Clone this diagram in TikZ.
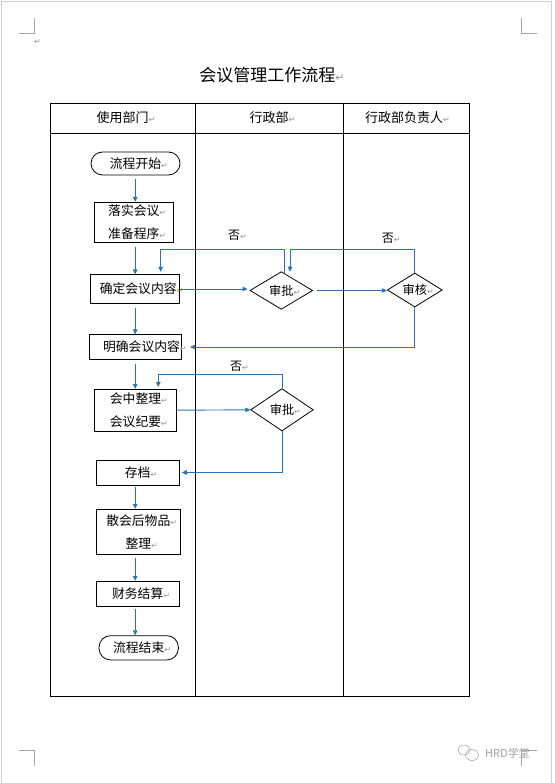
\documentclass[tikz,border=0pt]{standalone}
\usepackage{fontspec}
\setmainfont{Noto Sans CJK SC}
\newfontfamily\symf{DejaVu Sans}
\usetikzlibrary{shapes.geometric,arrows.meta,calc}
\definecolor{flowblue}{RGB}{39,116,181}
\definecolor{retgray}{RGB}{150,150,150}
\definecolor{markgray}{RGB}{165,165,165}
\definecolor{framegray}{RGB}{205,205,205}
\definecolor{wmgray}{RGB}{160,160,160}
\newcommand{\retmark}[1][8]{\rlap{\symf\fontsize{#1}{#1}\selectfont\color{retgray}↵}}
\begin{document}
\begin{tikzpicture}[x=1pt,y=-1pt,
  box/.style={draw, line width=0.8pt, rectangle, inner sep=0pt, align=center,
    font=\fontsize{12.8}{22.7}\selectfont},
  term/.style={box, rounded corners=11.5pt},
  dec/.style={draw, diamond, aspect=1.66, line width=0.8pt, inner sep=0pt,
    font=\fontsize{12.2}{14}\selectfont},
  flow/.style={draw=flowblue, line width=0.9pt, -{Triangle[length=5pt,width=4.5pt]}},
  lane/.style={line width=0.8pt},
  crop/.style={draw=markgray, line width=0.7pt},
  hdr/.style={font=\fontsize{13}{13}\selectfont, inner sep=0pt},
  lbl/.style={font=\fontsize{12}{12}\selectfont, inner sep=0pt}]
\useasboundingbox (0,0) rectangle (554,783);
% page frame and crop marks
\draw[draw=framegray, line width=1pt] (1.5,783) -- (1.5,1.5) -- (551.5,1.5) -- (551.5,783);
\draw[crop] (19,33.5) -- (34.5,33.5) -- (34.5,18);
\draw[crop] (521.5,18) -- (521.5,33.5) -- (537,33.5);
\draw[crop] (19,750.5) -- (34.5,750.5) -- (34.5,766);
\draw[crop] (521.5,766) -- (521.5,750.5) -- (537,750.5);
\node[inner sep=0pt, anchor=west] (pm) at (33.5,42) {\retmark};
% title
\node[font=\fontsize{17}{17}\selectfont, inner sep=0pt] (title) at (267.3,74.7) {会议管理工作流程\retmark[11]};
% table
\draw[lane] (50,103) rectangle (469,696);
\draw[lane] (50,133) -- (469,133);
\draw[lane] (195,103) -- (195,696);
\draw[lane] (343,103) -- (343,696);
\node[hdr] (h1) at (122.5,118) {使用部门\retmark};
\node[hdr] (h2) at (269,118) {行政部\retmark};
\node[hdr] (h3) at (404,118) {行政部负责人\retmark};
% nodes
\node[term, minimum width=89pt, minimum height=23pt] (start) at (135.5,163.5) {流程开始\retmark};
\node[box, minimum width=79pt, minimum height=40pt] (prep) at (133.8,222.3) {落实会议\retmark\\准备程序\retmark};
\node[box, minimum width=89.3pt, minimum height=28.4pt] (confirm) at (134.7,289) {\hspace*{7pt}确定会议内容\retmark};
\node[box, minimum width=92.4pt, minimum height=24.3pt] (clarify) at (135.5,347) {\hspace*{12pt}明确会议内容\retmark};
\node[box, minimum width=82.4pt, minimum height=41.7pt] (meet) at (135.5,410.2) {会中整理\retmark\\会议纪要\retmark};
\node[box, minimum width=83.3pt, minimum height=25pt] (archive) at (137.7,472.5) {存档\retmark};
\node[box, minimum width=84.7pt, minimum height=45pt] (clean) at (138.3,531.8) {散会后物品\retmark\\整理\retmark};
\node[box, minimum width=83.3pt, minimum height=25.4pt] (finance) at (137.7,594) {财务结算\retmark};
\node[term, minimum width=79.3pt, minimum height=24.3pt] (end) at (138.7,647.8) {流程结束\retmark};
\node[dec, minimum width=62.7pt, minimum height=37.7pt] (ap1) at (281.3,290.5) {审批\retmark};
\node[dec, minimum width=55pt, minimum height=34pt] (rev) at (414.8,290) {审核\retmark};
\node[dec, minimum width=62.6pt, minimum height=42.4pt] (ap2) at (282,409.8) {审批\retmark};
% labels
\node[lbl, anchor=west] (no1) at (228,235.5) {否\retmark};
\node[lbl, anchor=west] (no2) at (381.7,238) {否\retmark};
\node[lbl, anchor=west] (no3) at (230,366) {否\retmark};
% connectors
\coordinate (spine) at (135.2,0);
\draw[flow, shorten <=4pt] (start.south -| spine) -- (prep.north -| spine);
\draw[flow, shorten <=4pt] (prep.south -| spine) -- (confirm.north -| spine);
\draw[flow, shorten <=4pt] (confirm.south -| spine) -- (clarify.north -| spine);
\draw[flow, shorten <=4pt] (clarify.south -| spine) -- (meet.north -| spine);
\draw[flow, shorten <=2pt] (archive.south -| spine) -- (clean.north -| spine);
\draw[flow, shorten <=3pt] (clean.south -| spine) -- (finance.north -| spine);
\draw[flow, shorten <=2pt] (finance.south -| spine) -- (end.north -| spine);
\draw[flow, shorten >=2pt] (confirm.east) -- (confirm.east -| ap1.west);
\draw[flow, shorten <=4pt] (ap1.east) -- (ap1.east -| rev.west);
\coordinate (fbA) at (290,249.3);
\draw[flow] (rev.north) |- (fbA) -- ++(0,22.4);
\coordinate (fbB) at (160.7,249.3);
\draw[flow, shorten >=2.5pt] ($(ap1.north)+(3,2)$) |- (fbB) -- (fbB |- confirm.north);
\draw[flow, shorten >=8pt] (rev.south) |- (clarify.east);
\draw[flow] (meet.east) -- (ap2.west);
\coordinate (fbC) at (158.3,374);
\draw[flow, shorten >=2pt] (ap2.north) |- (fbC) -- (fbC |- meet.north);
\draw[flow, shorten >=2pt] (ap2.south) |- (archive.east);
% watermark
\draw[wmgray, line width=0.5pt] (464,750) ellipse (6pt and 5pt);
\draw[wmgray, line width=0.5pt] (472,755) ellipse (6.5pt and 5.5pt);
\node[text=wmgray, font=\fontsize{11}{11}\selectfont, inner sep=0pt, anchor=west] (wm) at (485,753) {HRD学堂};
\end{tikzpicture}
\end{document}
